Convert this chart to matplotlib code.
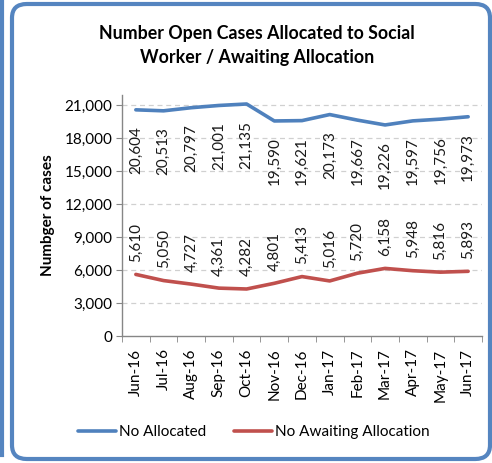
import matplotlib
matplotlib.use('Agg')
import matplotlib.pyplot as plt
from matplotlib.patches import FancyBboxPatch
from matplotlib.lines import Line2D
from matplotlib.ticker import FuncFormatter

months = ['Jun-16', 'Jul-16', 'Aug-16', 'Sep-16', 'Oct-16', 'Nov-16', 'Dec-16',
          'Jan-17', 'Feb-17', 'Mar-17', 'Apr-17', 'May-17', 'Jun-17']
allocated = [20604, 20513, 20797, 21001, 21135, 19590, 19621,
             20173, 19667, 19226, 19597, 19756, 19973]
awaiting = [5610, 5050, 4727, 4361, 4282, 4801, 5413,
            5016, 5720, 6158, 5948, 5816, 5893]
yticks = [0, 3000, 6000, 9000, 12000, 15000, 18000, 21000]

BLUE, RED, BORDER = '#4F81BD', '#C0504D', '#5585C0'
plt.rcParams['font.family'] = ['Lato', 'DejaVu Sans']

fig = plt.figure(figsize=(4.92, 4.63), dpi=100)

# chart frame (rounded box + edge of neighbouring box)
fig.patches.append(FancyBboxPatch((12 / 492, 4 / 463), 478 / 492, 455 / 463,
                                  boxstyle='round,pad=0,rounding_size=0.03',
                                  transform=fig.transFigure, fill=False,
                                  ec=BORDER, lw=3.0))
fig.lines.append(Line2D([1.5 / 492, 1.5 / 492], [8 / 463, 1.0], transform=fig.transFigure,
                        color=BORDER, lw=3.0))

ax = fig.add_axes([122 / 492, 1 - 336 / 463, 360 / 492, 241.5 / 463])
x = list(range(len(months)))
ax.plot(x, allocated, color=BLUE, lw=2.6, solid_capstyle='round', zorder=3, label='No Allocated')
ax.plot(x, awaiting, color=RED, lw=2.6, solid_capstyle='round', zorder=3, label='No Awaiting Allocation')

for xi, v in zip(x, allocated):
    ax.annotate(f'{v:,}', (xi, v), xytext=(0, -12), textcoords='offset points',
                rotation=90, ha='center', va='top', fontsize=11, color='#1a1a1a')
for xi, v in zip(x, awaiting):
    ax.annotate(f'{v:,}', (xi, v), xytext=(0, 9), textcoords='offset points',
                rotation=90, ha='center', va='bottom', fontsize=11, color='#1a1a1a')

ax.set_xlim(-0.5, len(months) - 0.5)
ax.set_ylim(0, 22000)
ax.set_yticks(yticks)
ax.yaxis.set_major_formatter(FuncFormatter(lambda v, p: f'{int(v):,}'))
ax.set_xticks(x)
ax.set_xticklabels(months, rotation=90)
ax.set_xticks([i - 0.5 for i in range(len(months) + 1)], minor=True)
ax.tick_params(axis='x', which='major', length=0, pad=9, labelsize=11)
ax.tick_params(axis='x', which='minor', length=4, color='#868686')
ax.tick_params(axis='y', length=4, color='#868686', labelsize=11, pad=3)

for s in ['top', 'right']:
    ax.spines[s].set_visible(False)
for s in ['left', 'bottom']:
    ax.spines[s].set_color('#868686')
    ax.spines[s].set_linewidth(1.0)
for t in yticks[1:]:
    ax.axhline(t, color='#D0D0D0', lw=0.9, ls=(0, (4, 3)), zorder=1)

ax.set_ylabel('Numbger of cases', fontsize=11, fontweight='bold', labelpad=7)
fig.text(257 / 492, 1 - 46 / 463, 'Number Open Cases Allocated to Social\nWorker / Awaiting Allocation',
         ha='center', va='center', fontsize=12.8, fontweight='bold', linespacing=1.5)

ax.legend(loc='center', bbox_to_anchor=(254 / 492, 1 - 432 / 463), bbox_transform=fig.transFigure,
          ncol=2, frameon=False, fontsize=11, handlelength=2.5, handletextpad=0.2,
          columnspacing=1.8)

fig.savefig('out.png', dpi=100)
